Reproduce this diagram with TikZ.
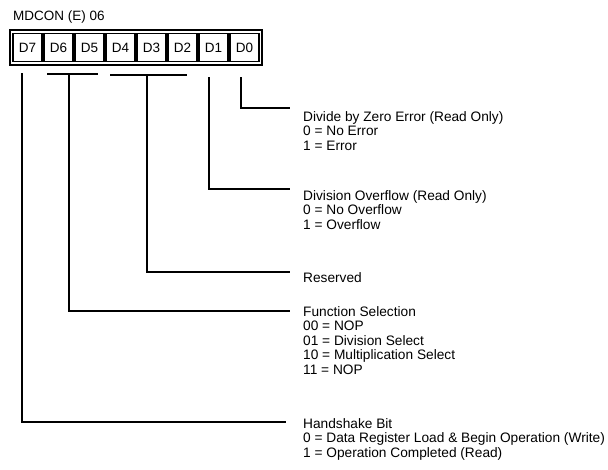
\documentclass[tikz,border=0pt]{standalone}
\usepackage{fontspec}
\setmainfont{Liberation Sans}
\begin{document}
\begin{tikzpicture}[x=1pt,y=-1pt,
  cell/.style={draw,line width=1.4pt,minimum width=29pt,minimum height=28pt,inner sep=0pt,font=\fontsize{13.5}{14}\selectfont},
  lab/.style={anchor=north west,align=left,inner sep=0pt,font=\fontsize{13.7}{14.5}\selectfont},
  wire/.style={line width=1.8pt}]
\useasboundingbox (0,0) rectangle (608,469);
\node[anchor=west,inner sep=0pt,font=\fontsize{13.5}{14.5}\selectfont] (title) at (13,17) {MDCON (E) 06};
\node[draw,line width=2.6pt,minimum width=252pt,minimum height=35pt,inner sep=0pt] (reg) at (136,47.5) {};
\node[cell] (d7) at (27.5,47.5) {D7};
\node[cell] (d6) at (58.5,47.5) {D6};
\node[cell] (d5) at (89.5,47.5) {D5};
\node[cell] (d4) at (120.5,47.5) {D4};
\node[cell] (d3) at (151.5,47.5) {D3};
\node[cell] (d2) at (182.5,47.5) {D2};
\node[cell] (d1) at (213.5,47.5) {D1};
\node[cell] (d0) at (244.5,47.5) {D0};
% group bars
\coordinate (b65l) at (47,74);
\coordinate (b65r) at (98,74);
\coordinate (b42l) at (110,75);
\coordinate (b42r) at (187,75);
\draw[wire] (b65l) -- (b65r);
\draw[wire] (b42l) -- (b42r);
% connector tops and ends
\coordinate (t0) at (241,77);  \coordinate (e0) at (290,108);
\coordinate (t1) at (209,77);  \coordinate (e1) at (290,189);
\coordinate (t42) at (147,75); \coordinate (e42) at (290,272);
\coordinate (t65) at (69,74);  \coordinate (e65) at (290,311);
\coordinate (t7) at (22,73);   \coordinate (e7) at (286,422);
\draw[wire] (t0) |- (e0);
\draw[wire] (t1) |- (e1);
\draw[wire] (t42) |- (e42);
\draw[wire] (t65) |- (e65);
\draw[wire] (t7) |- (e7);
% labels
\node[lab] (l0) at (303,111) {Divide by Zero Error (Read Only)\\0 = No Error\\1 = Error};
\node[lab] (l1) at (303,190) {Division Overflow (Read Only)\\0 = No Overflow\\1 = Overflow};
\node[lab] (l42) at (303,272) {Reserved};
\node[lab] (l65) at (303,306) {Function Selection\\00 = NOP\\01 = Division Select\\10 = Multiplication Select\\11 = NOP};
\node[lab] (l7) at (303,418) {Handshake Bit\\0 = Data Register Load \& Begin Operation (Write)\\1 = Operation Completed (Read)};
\end{tikzpicture}
\end{document}
